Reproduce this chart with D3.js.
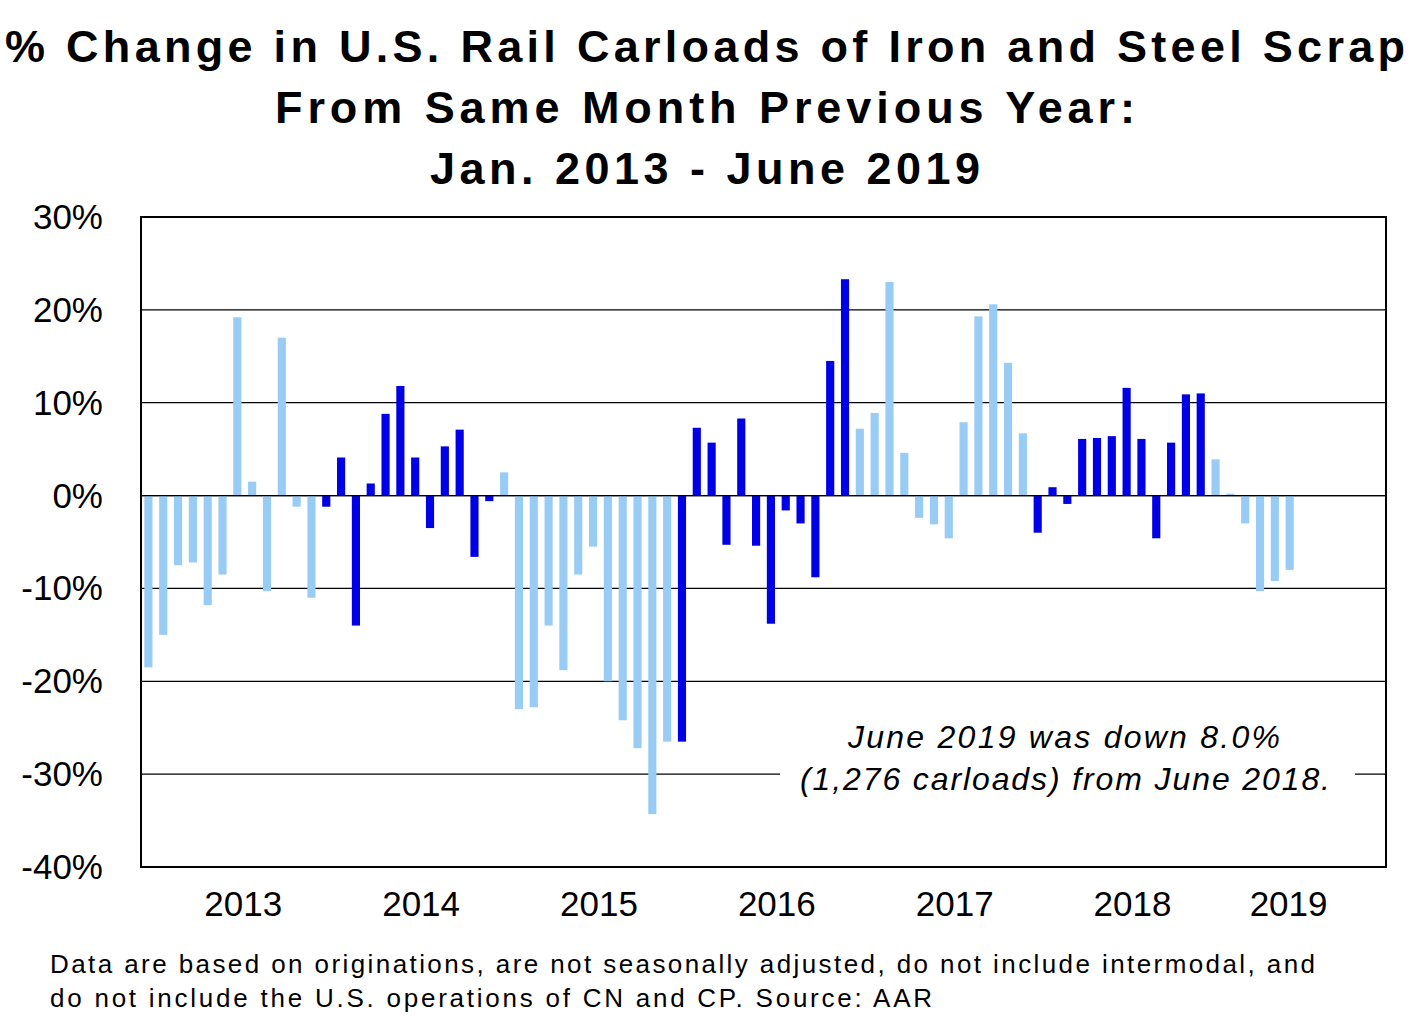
<!DOCTYPE html><html><head><meta charset="utf-8">
<script src="https://cdn.jsdelivr.net/npm/d3@7"></script>
<style>body{margin:0;background:#fff}text{font-family:"Liberation Sans",Arial,sans-serif}</style></head><body>
<svg id="c" width="1411" height="1024"></svg>
<script>
const values=[-18.5,-15,-7.5,-7.2,-11.8,-8.5,19.2,1.5,-10.3,17.0,-1.2,-11,
-1.2,4.1,-14,1.3,8.8,11.8,4.1,-3.5,5.3,7.1,-6.6,-0.6,
2.5,-23,-22.8,-14,-18.8,-8.5,-5.5,-20,-24.2,-27.2,-34.3,-26.5,
-26.5,7.3,5.7,-5.3,8.3,-5.4,-13.8,-1.6,-3,-8.8,14.5,23.3,
7.2,8.9,23,4.6,-2.4,-3.1,-4.6,7.9,19.3,20.6,14.3,6.7,
-4,0.9,-0.9,6.1,6.2,6.4,11.6,6.1,-4.6,5.7,10.9,11,
3.9,0.2,-3,-10.3,-9.2,-8];
const years=["2013","2014","2015","2016","2017","2018","2019"];
const yTicks=[30,20,10,0,-10,-20,-30,-40];
const svg=d3.select("#c");
const L=141,R=1386,T=217,B=867;
const x=d3.scaleBand().domain(d3.range(84)).range([L,R]).paddingInner(0.45).paddingOuter(0.225);
const y=d3.scaleLinear().domain([-40,30]).range([B,T]);
svg.selectAll(".g").data(yTicks).join("line").attr("x1",L).attr("x2",R).attr("y1",d=>y(d)).attr("y2",d=>y(d)).attr("stroke","#000").attr("stroke-width",1.3);
svg.selectAll(".b").data(values).join("rect").attr("x",(d,i)=>x(i)).attr("width",x.bandwidth())
 .attr("y",d=>y(Math.max(0,d))).attr("height",d=>Math.abs(y(d)-y(0)))
 .attr("fill",(d,i)=>Math.floor(i/12)%2?"#0000E6":"#99CCF5");
svg.append("line").attr("x1",L).attr("x2",R).attr("y1",y(0)).attr("y2",y(0)).attr("stroke","#000").attr("stroke-width",1.3);
svg.append("rect").attr("x",L).attr("y",T).attr("width",R-L).attr("height",B-T).attr("fill","none").attr("stroke","#000").attr("stroke-width",2);
svg.selectAll(".yl").data(yTicks).join("text").attr("x",103).attr("y",d=>y(d)+12).attr("text-anchor","end").attr("font-size",35).text(d=>d+"%");
svg.selectAll(".xl").data(years).join("text").attr("x",(d,i)=>i<6?x(i*12+6)+10:x(77)+3).attr("y",916).attr("text-anchor","middle").attr("font-size",35).text(d=>d);
svg.append("rect").attr("x",780).attr("y",715).attr("width",575).attr("height",85).attr("fill","#fff");
function line(parent,x0,yy,len,txt){parent.append("tspan").attr("x",x0).attr("y",yy).attr("textLength",len).attr("lengthAdjust","spacing").text(txt);}
const ann=svg.append("text").attr("font-size",32).attr("font-style","italic");
line(ann,848,748,432,"June 2019 was down 8.0%");
line(ann,800,790,530,"(1,276 carloads) from June 2018.");
const t=svg.append("text").attr("font-size",45).attr("font-weight","bold");
line(t,5,62,1400,"% Change in U.S. Rail Carloads of Iron and Steel Scrap");
line(t,275,123,860,"From Same Month Previous Year:");
line(t,430,184,550,"Jan. 2013 - June 2019");
const f=svg.append("text").attr("font-size",26);
line(f,50,973,1265,"Data are based on originations, are not seasonally adjusted, do not include intermodal, and");
line(f,50,1007,882,"do not include the U.S. operations of CN and CP.  Source: AAR");
</script></body></html>
